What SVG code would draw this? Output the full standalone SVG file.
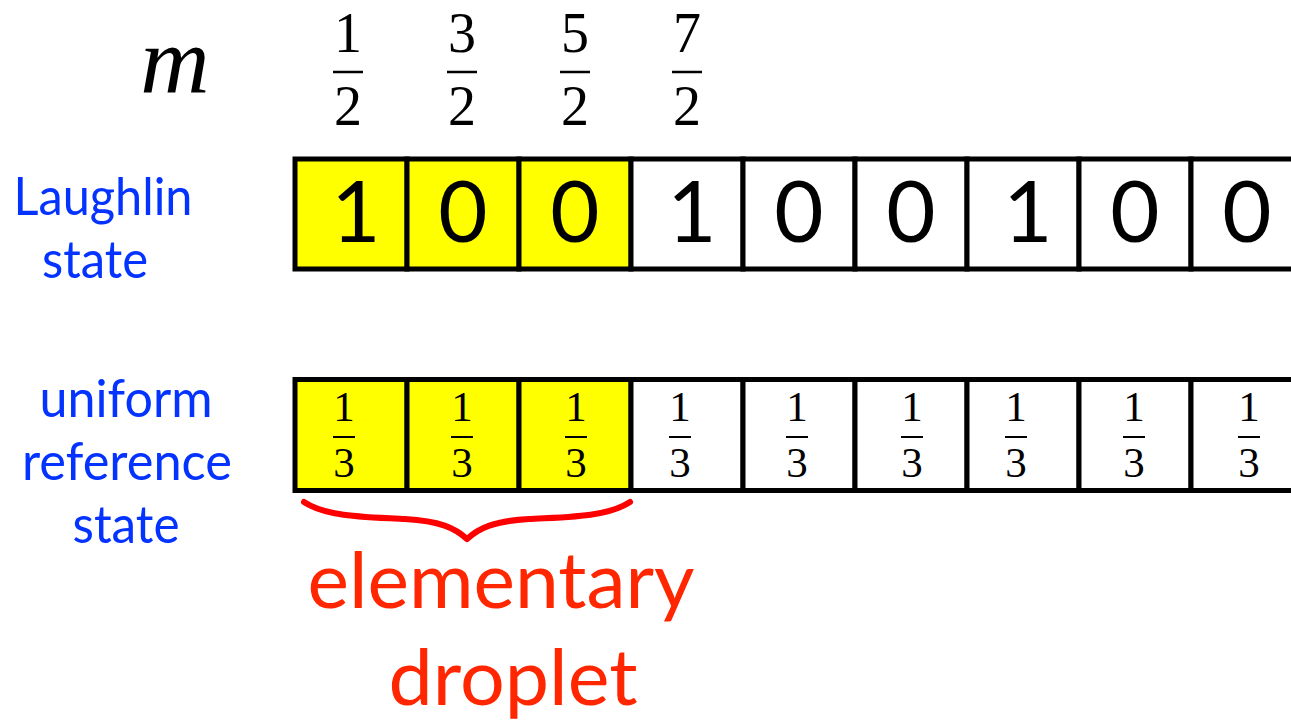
<svg xmlns="http://www.w3.org/2000/svg" width="1291" height="724" viewBox="0 0 1291 724">
<style>
.cell{stroke:#000;stroke-width:5;}
.y{fill:#ffff00;}
.w{fill:#fff;}
.dig{font-family:Lato,"Open Sans",sans-serif;font-size:85px;fill:#000;text-anchor:middle;}
.num{font-family:"Liberation Serif","DejaVu Serif",serif;fill:#000;text-anchor:middle;}
.top{font-size:56px;}
.small{font-size:43px;}
.bar{stroke:#000;}
.blue{font-family:Lato,"Open Sans",sans-serif;font-size:52px;fill:#0433ff;text-anchor:middle;}
.red{font-family:Lato,"Open Sans",sans-serif;font-size:78px;fill:#ff2600;text-anchor:middle;}
</style>
<rect width="1291" height="724" fill="#fff"/>

<g id="m-label"><text x="175" y="93" font-family="Liberation Serif, DejaVu Serif, serif" font-style="italic" font-size="96" fill="#000" text-anchor="middle">m</text></g>

<g id="m-values">
<g id="m1"><text class="num top" x="348" y="52">1</text><line class="bar" x1="333" y1="72" x2="363" y2="72" stroke-width="2.5"/><text class="num top" x="348" y="125">2</text></g>
<g id="m3"><text class="num top" x="462" y="52">3</text><line class="bar" x1="447" y1="72" x2="477" y2="72" stroke-width="2.5"/><text class="num top" x="462" y="125">2</text></g>
<g id="m5"><text class="num top" x="575" y="52">5</text><line class="bar" x1="560" y1="72" x2="590" y2="72" stroke-width="2.5"/><text class="num top" x="575" y="125">2</text></g>
<g id="m7"><text class="num top" x="687" y="52">7</text><line class="bar" x1="672" y1="72" x2="702" y2="72" stroke-width="2.5"/><text class="num top" x="687" y="125">2</text></g>
</g>

<g id="laughlin-label"><text class="blue" x="103" y="215" textLength="179" lengthAdjust="spacingAndGlyphs">Laughlin</text><text class="blue" x="95" y="278" textLength="106" lengthAdjust="spacingAndGlyphs">state</text></g>

<g id="uniform-label"><text class="blue" x="126" y="417" textLength="173" lengthAdjust="spacingAndGlyphs">uniform</text><text class="blue" x="127" y="480" textLength="210" lengthAdjust="spacingAndGlyphs">reference</text><text class="blue" x="126" y="543" textLength="107" lengthAdjust="spacingAndGlyphs">state</text></g>

<g id="laughlin-row">
<g id="L1"><rect class="cell y" x="295" y="159" width="112" height="110"/><text class="dig" x="356" y="242">1</text></g>
<g id="L2"><rect class="cell y" x="407" y="159" width="112" height="110"/><text class="dig" x="463" y="242">0</text></g>
<g id="L3"><rect class="cell y" x="519" y="159" width="112" height="110"/><text class="dig" x="575" y="242">0</text></g>
<g id="L4"><rect class="cell w" x="631" y="159" width="112" height="110"/><text class="dig" x="692" y="242">1</text></g>
<g id="L5"><rect class="cell w" x="743" y="159" width="112" height="110"/><text class="dig" x="799" y="242">0</text></g>
<g id="L6"><rect class="cell w" x="855" y="159" width="112" height="110"/><text class="dig" x="911" y="242">0</text></g>
<g id="L7"><rect class="cell w" x="967" y="159" width="112" height="110"/><text class="dig" x="1028" y="242">1</text></g>
<g id="L8"><rect class="cell w" x="1079" y="159" width="112" height="110"/><text class="dig" x="1135" y="242">0</text></g>
<g id="L9"><rect class="cell w" x="1191" y="159" width="112" height="110"/><text class="dig" x="1247" y="242">0</text></g>
</g>

<g id="uniform-row">
<g id="U1"><rect class="cell y" x="295" y="379.5" width="112" height="111"/><text class="num small" x="344" y="421">1</text><line class="bar" x1="333" y1="437" x2="355" y2="437" stroke-width="2"/><text class="num small" x="344" y="477">3</text></g>
<g id="U2"><rect class="cell y" x="407" y="379.5" width="112" height="111"/><text class="num small" x="462" y="421">1</text><line class="bar" x1="451" y1="437" x2="473" y2="437" stroke-width="2"/><text class="num small" x="462" y="477">3</text></g>
<g id="U3"><rect class="cell y" x="519" y="379.5" width="112" height="111"/><text class="num small" x="576" y="421">1</text><line class="bar" x1="565" y1="437" x2="587" y2="437" stroke-width="2"/><text class="num small" x="576" y="477">3</text></g>
<g id="U4"><rect class="cell w" x="631" y="379.5" width="112" height="111"/><text class="num small" x="680" y="421">1</text><line class="bar" x1="669" y1="437" x2="691" y2="437" stroke-width="2"/><text class="num small" x="680" y="477">3</text></g>
<g id="U5"><rect class="cell w" x="743" y="379.5" width="112" height="111"/><text class="num small" x="797" y="421">1</text><line class="bar" x1="786" y1="437" x2="808" y2="437" stroke-width="2"/><text class="num small" x="797" y="477">3</text></g>
<g id="U6"><rect class="cell w" x="855" y="379.5" width="112" height="111"/><text class="num small" x="912" y="421">1</text><line class="bar" x1="901" y1="437" x2="923" y2="437" stroke-width="2"/><text class="num small" x="912" y="477">3</text></g>
<g id="U7"><rect class="cell w" x="967" y="379.5" width="112" height="111"/><text class="num small" x="1016" y="421">1</text><line class="bar" x1="1005" y1="437" x2="1027" y2="437" stroke-width="2"/><text class="num small" x="1016" y="477">3</text></g>
<g id="U8"><rect class="cell w" x="1079" y="379.5" width="112" height="111"/><text class="num small" x="1134" y="421">1</text><line class="bar" x1="1123" y1="437" x2="1145" y2="437" stroke-width="2"/><text class="num small" x="1134" y="477">3</text></g>
<g id="U9"><rect class="cell w" x="1191" y="379.5" width="112" height="111"/><text class="num small" x="1249" y="421">1</text><line class="bar" x1="1238" y1="437" x2="1260" y2="437" stroke-width="2"/><text class="num small" x="1249" y="477">3</text></g>
</g>

<g id="connectors">
<path id="brace" d="M304,502 C325,516 360,517 405,519 C440,521 455,528 467,539 C479,528 494,521 529,519 C574,517 609,516 630,502" fill="none" stroke="#ff0000" stroke-width="6" stroke-linecap="round" stroke-linejoin="round"/>
</g>

<g id="droplet-label"><text class="red" x="501" y="608" textLength="387" lengthAdjust="spacingAndGlyphs">elementary</text><text class="red" x="513" y="705" textLength="249" lengthAdjust="spacingAndGlyphs">droplet</text></g>
</svg>
